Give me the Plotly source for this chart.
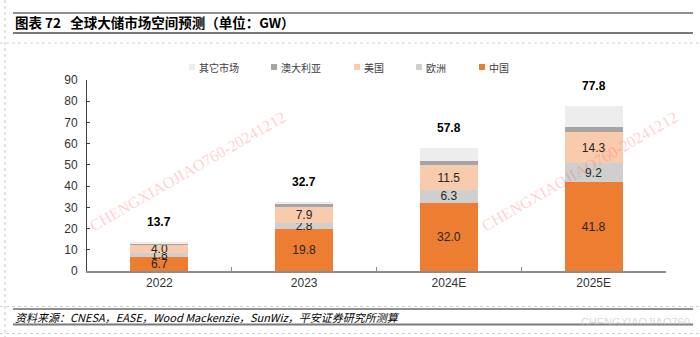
import plotly.graph_objects as go

# ---------------- data ----------------
categories = ["2022", "2023", "2024E", "2025E"]
china = [6.7, 19.8, 32.0, 41.8]
europe = [1.8, 2.8, 6.3, 9.2]
usa = [4.0, 7.9, 11.5, 14.3]
australia = [0.6, 0.9, 1.8, 2.7]
others = [0.6, 1.3, 6.2, 9.8]
totals = [13.7, 32.7, 57.8, 77.8]
y_tick_values = [0, 10, 20, 30, 40, 50, 60, 70, 80, 90]

series_names = ["中国", "欧洲", "美国", "澳大利亚", "其它市场"]
series_values = [china, europe, usa, australia, others]
series_labeled = [True, True, True, False, False]
series_colors = ["#ED7D31", "#CFCFCF", "#F8CBAD", "#A5A5A5", "#EDEDED"]

title_text = "图表 72\u00a0\u00a0\u00a0全球大储市场空间预测（单位：GW）"
source_text = "资料来源：CNESA，EASE，Wood Mackenzie，SunWiz，平安证券研究所测算"
watermark_text = "CHENGXIAOJIAO760-20241212"

# ---------------- layout geometry ----------------
W, H = 700, 337
L, R, T, B = 87, 666, 80, 271
legend_marker_px = [482, 419, 357, 274, 192]  # marker centres, in series order


def fx(px):
    return (px - L) / (R - L)


def fy(py):
    return (B - py) / (B - T)


LATIN = "Liberation Sans, Arial, sans-serif"
CJK = "Noto Sans CJK SC, Liberation Sans, sans-serif"

fig = go.Figure()

for name, vals, labeled, col in zip(series_names, series_values, series_labeled, series_colors):
    fig.add_trace(go.Bar(
        x=categories, y=vals, name=name,
        marker=dict(color=col, line=dict(width=0)),
        width=0.4,
        text=[f"{v:.1f}" for v in vals] if labeled else None,
        textposition="inside" if labeled else "none",
        insidetextanchor="middle",
        textangle=0,
        textfont=dict(family=LATIN, size=12, color="#262626"),
        showlegend=False,
        hoverinfo="skip",
    ))

annotations = []
shapes = []

# totals above each bar (x by category index)
for i, t in enumerate(totals):
    annotations.append(dict(
        x=i, y=t, xref="x", yref="y", text=f"<b>{t:.1f}</b>", showarrow=False,
        yshift=20, font=dict(family=LATIN, size=12, color="#000000"),
    ))

# legend (markers + labels)
for name, col, mx in zip(series_names, series_colors, legend_marker_px):
    shapes.append(dict(type="rect", xref="paper", yref="paper",
                       x0=fx(mx - 3), x1=fx(mx + 3), y0=fy(64), y1=fy(70),
                       fillcolor=col, line=dict(width=0)))
    annotations.append(dict(
        x=fx(mx + 5), y=fy(67), xref="paper", yref="paper", xanchor="left",
        yanchor="middle", text=name, showarrow=False,
        font=dict(family=CJK, size=10, color="#404040"),
    ))

annotations.append(dict(
    x=fx(13), y=fy(22), xref="paper", yref="paper", xanchor="left", yanchor="middle",
    text=f"<b>{title_text}</b>", showarrow=False,
    font=dict(family=CJK, size=13.5, color="#000000"),
))
annotations.append(dict(
    x=fx(13), y=fy(317), xref="paper", yref="paper", xanchor="left", yanchor="middle",
    text=f"<i>{source_text}</i>", showarrow=False,
    font=dict(family=CJK, size=11, color="#000000"),
))
for cx, cy in [(187, 171), (579, 171)]:
    annotations.append(dict(
        x=fx(cx), y=fy(cy), xref="paper", yref="paper", xanchor="center", yanchor="middle",
        text=watermark_text, showarrow=False, textangle=-30,
        font=dict(family="Liberation Serif, serif", size=16, color="rgba(255,80,80,0.28)"),
    ))
annotations.append(dict(
    x=fx(692), y=fy(322), xref="paper", yref="paper", xanchor="right", yanchor="middle",
    text="CHENGXIAOJIAO760", showarrow=False,
    font=dict(family=LATIN, size=11, color="rgba(190,190,190,0.6)"),
))


def hline(y, x0, x1, color, width, dash="solid"):
    shapes.append(dict(type="line", xref="paper", yref="paper",
                       x0=fx(x0), x1=fx(x1), y0=fy(y), y1=fy(y),
                       line=dict(color=color, width=width, dash=dash)))


hline(13, 13, 693, "#222222", 1.2)
hline(33, 13, 693, "#7a7a7a", 2.2)
hline(43, 0, 700, "#cfcfcf", 1.2, "dot")
hline(306.5, 0, 700, "#cfcfcf", 1.2, "dot")
hline(309, 13, 693, "#222222", 1.2)
hline(324.5, 13, 693, "#7a7a7a", 2.2)
hline(333.5, 0, 700, "#cfcfcf", 1.2, "dot")
shapes.append(dict(type="line", xref="paper", yref="paper",
                   x0=fx(5), x1=fx(5), y0=fy(0), y1=fy(337),
                   line=dict(color="#cfcfcf", width=1.2, dash="dot")))

fig.update_layout(
    width=W, height=H,
    margin=dict(l=L, r=W - R, t=T, b=H - B, pad=0),
    paper_bgcolor="white", plot_bgcolor="white",
    barmode="stack",
    uniformtext=dict(minsize=12, mode="show"),
    showlegend=False,
    xaxis=dict(type="category", categoryorder="array", categoryarray=categories,
               range=[-0.5, len(categories) - 0.5], autorange=False,
               showline=True, linecolor="#8c8c8c", linewidth=1.6,
               ticks="inside", tickson="boundaries", ticklen=4, tickcolor="#8c8c8c",
               showgrid=False, zeroline=False,
               tickfont=dict(family=LATIN, size=12, color="#333333")),
    yaxis=dict(range=[0, 90], autorange=False, tickvals=y_tick_values, showline=True,
               linecolor="#404040", linewidth=1, ticks="inside", ticklen=3,
               tickcolor="#404040", showgrid=False, zeroline=False, ticklabelstandoff=6,
               tickfont=dict(family=LATIN, size=12, color="#333333")),
    annotations=annotations,
    shapes=shapes,
)

fig.write_html("out.html")
